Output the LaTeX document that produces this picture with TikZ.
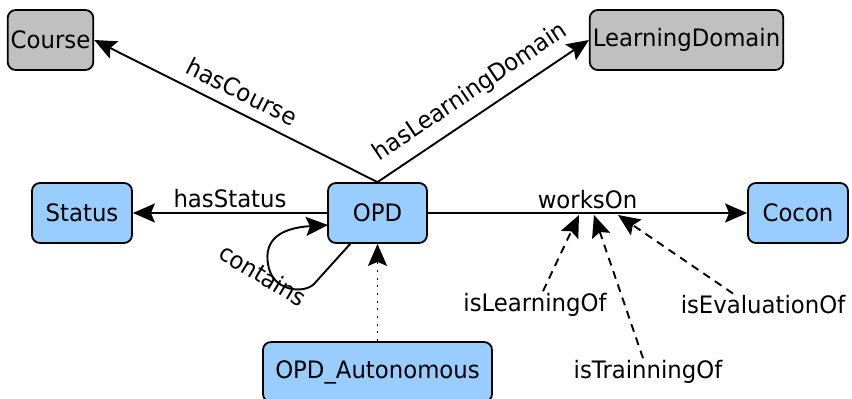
\documentclass[tikz,border=0pt]{standalone}
\usepackage{fontspec}
\setmainfont{DejaVu Sans}[FakeStretch=0.95]
\usetikzlibrary{arrows.meta}
\definecolor{boxblue}{HTML}{99CCFF}
\definecolor{boxgray}{HTML}{C0C0C0}
\tikzset{
  base/.style={draw=black, line width=1.8pt, rounded corners=8pt, minimum height=60pt, inner sep=3pt, font=\fontsize{24}{28}\selectfont},
  bluebox/.style={base, fill=boxblue},
  graybox/.style={base, fill=boxgray},
  lbl/.style={font=\fontsize{24}{28}\selectfont, inner sep=2pt},
  conn/.style={line width=1.9pt, -{Stealth[length=22pt,width=19pt,inset=4pt]}},
  dashconn/.style={conn, dash pattern=on 8pt off 6pt},
  dotconn/.style={conn, dash pattern=on 2pt off 5.7pt}
}
\begin{document}
\begin{tikzpicture}[x=1pt,y=-1pt]
\useasboundingbox (0,0) rectangle (852,399);
\node[graybox, minimum width=85pt] (course) at (50.5,40) {Course};
\node[graybox, minimum width=193pt] (ld) at (686.5,40) {LearningDomain};
\node[bluebox, minimum width=100pt] (status) at (82,213) {Status};
\node[bluebox, minimum width=99pt] (opd) at (377.5,213) {OPD};
\node[bluebox, minimum width=100pt] (cocon) at (798,213) {Cocon};
\node[bluebox, minimum width=229pt] (auto) at (377.5,372) {OPD\_Autonomous};

\draw[conn] (opd.north) -- node[lbl, sloped, above, pos=0.51, yshift=8pt] {hasCourse} (course.east);
\draw[conn] (opd.north) -- node[lbl, sloped, above, pos=0.5, yshift=8pt] {hasLearningDomain} (ld.west);
\draw[conn] (opd.west) -- node[lbl, above, pos=0.5, yshift=2pt] {hasStatus} (status.east);
\draw[conn] (opd.east) -- node[lbl, above, pos=0.5, yshift=1pt] (won) {worksOn} (cocon.west);
\draw[dotconn] (auto.north) -- (opd.south);

% self loop
\coordinate (cs) at (351,243);
\coordinate (ce) at (328,225);
\draw[conn] (cs) -- (314,284) .. controls (304,294) and (272,292) .. (268,264)
  .. controls (264,240) and (280,228) .. (ce);
\node[lbl, rotate=-31] (contains) at (263,275) {contains};

% dashed arrows to worksOn
\coordinate (tL) at (579,215);
\coordinate (tT) at (594,215);
\coordinate (tE) at (618,215);
\node[lbl] (lLearn) at (535,305) {isLearningOf};
\node[lbl] (lTrain) at (648,372) {isTrainningOf};
\node[lbl] (lEval) at (763,305) {isEvaluationOf};
\draw[dashconn] ([xshift=8pt]lLearn.north) -- (tL);
\draw[dashconn] ([xshift=-5pt]lTrain.north) -- (tT);
\draw[dashconn] ([xshift=-30pt]lEval.north) -- (tE);
\end{tikzpicture}
\end{document}
